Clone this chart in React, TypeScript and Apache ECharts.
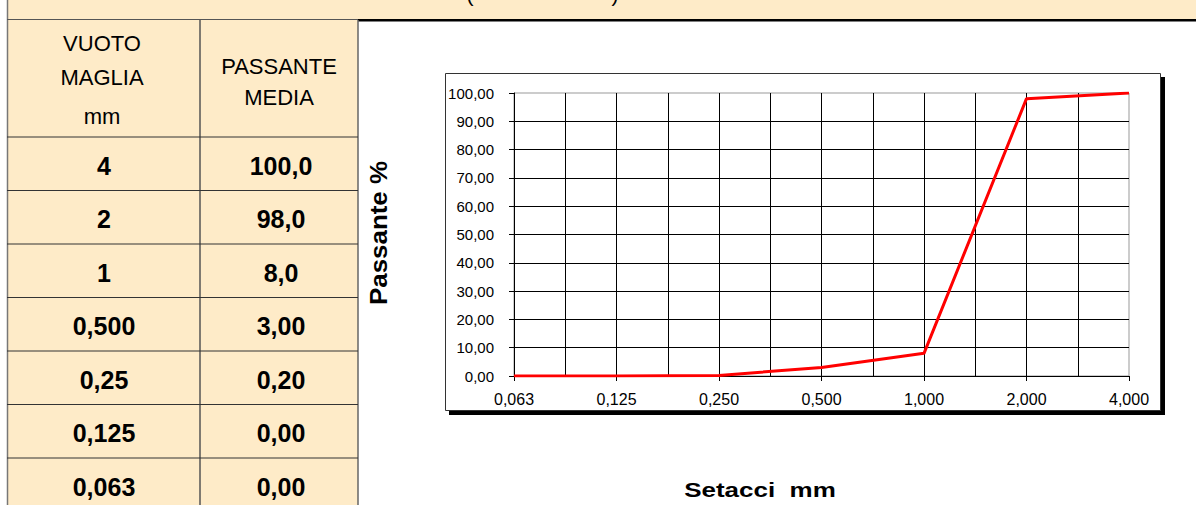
import React, { useEffect, useRef } from "react";
import * as echarts from "echarts";

// ---- Data ----
const sieveLabels = ["0,063", "0,125", "0,250", "0,500", "1,000", "2,000", "4,000"];
const passing = [0, 0, 0.2, 3, 8, 98, 100];

const tableSieves = ["4", "2", "1", "0,500", "0,25", "0,125", "0,063"];
const tablePassing = ["100,0", "98,0", "8,0", "3,00", "0,20", "0,00", "0,00"];
const headerCol1 = ["VUOTO", "MAGLIA", "mm"];
const headerCol2 = ["PASSANTE", "MEDIA"];

const yTitle = "Passante %";
const xTitle = "Setacci  mm";

const FONT = '"Liberation Sans", Arial, sans-serif';
const CREAM = "#FEEBC8";

export default function App() {
  const ref = useRef<HTMLDivElement>(null);

  useEffect(() => {
    document.body.style.margin = "0";
    if (!ref.current) return;
    const chart = echarts.init(ref.current, undefined, { renderer: "svg" });

    const rowTop0 = 137;
    const rowH = 53.5;
    const graphics: any[] = [];

    // backgrounds
    graphics.push({ type: "rect", z: -20, shape: { x: 7, y: 0, width: 351, height: 505 }, style: { fill: CREAM } });
    graphics.push({ type: "rect", z: -20, shape: { x: 7, y: 0, width: 1189, height: 20 }, style: { fill: CREAM } });
    // chart frame + shadow
    graphics.push({ type: "rect", z: -15, shape: { x: 449, y: 77, width: 716, height: 338 }, style: { fill: "#000" } });
    graphics.push({ type: "rect", z: -14, shape: { x: 445.5, y: 73.5, width: 715, height: 337 }, style: { fill: "#fff", stroke: "#333", lineWidth: 1 } });

    // table lines
    const lineStyle = (c: string, w: number) => ({ stroke: c, lineWidth: w });
    graphics.push({ type: "line", z: 5, shape: { x1: 7.5, y1: 0, x2: 7.5, y2: 505 }, style: lineStyle("#777", 1.5) });
    graphics.push({ type: "line", z: 5, shape: { x1: 7, y1: 19.5, x2: 358, y2: 19.5 }, style: lineStyle("#555", 1) });
    graphics.push({ type: "line", z: 5, shape: { x1: 358, y1: 20.2, x2: 1196, y2: 20.2 }, style: lineStyle("#000", 2.5) });
    graphics.push({ type: "line", z: 5, shape: { x1: 200, y1: 20, x2: 200, y2: 505 }, style: lineStyle("#555", 1.5) });
    graphics.push({ type: "line", z: 5, shape: { x1: 358, y1: 20, x2: 358, y2: 505 }, style: lineStyle("#666", 1.5) });
    for (let i = 0; i < tableSieves.length; i++) {
      const y = rowTop0 + i * rowH;
      graphics.push({ type: "line", z: 5, shape: { x1: 7, y1: y, x2: 358, y2: y }, style: lineStyle("#333", 1) });
    }

    // header texts
    const headY1 = [43.5, 77.5, 116.5];
    headerCol1.forEach((t, i) => {
      graphics.push({
        type: "text", z: 10, x: 102, y: headY1[i],
        style: { text: t, fontFamily: FONT, fontSize: 22, fill: "#000", align: "center", verticalAlign: "middle" },
      });
    });
    const headY2 = [66.5, 97.5];
    headerCol2.forEach((t, i) => {
      graphics.push({
        type: "text", z: 10, x: 279, y: headY2[i],
        style: { text: t, fontFamily: FONT, fontSize: 22, fill: "#000", align: "center", verticalAlign: "middle" },
      });
    });

    // table values
    tableSieves.forEach((t, i) => {
      const cy = rowTop0 + i * rowH + 28.5;
      graphics.push({
        type: "text", z: 10, x: 104, y: cy,
        style: { text: t, fontFamily: FONT, fontSize: 25, fontWeight: "bold", fill: "#000", align: "center", verticalAlign: "middle" },
      });
      graphics.push({
        type: "text", z: 10, x: 281, y: cy,
        style: { text: tablePassing[i], fontFamily: FONT, fontSize: 25, fontWeight: "bold", fill: "#000", align: "center", verticalAlign: "middle" },
      });
    });

    // partially visible title parentheses at the top
    graphics.push({ type: "text", z: 10, x: 470, y: -6, style: { text: "(", fontFamily: FONT, fontSize: 21, fill: "#000", align: "center", verticalAlign: "middle" } });
    graphics.push({ type: "text", z: 10, x: 615, y: -6, style: { text: ")", fontFamily: FONT, fontSize: 21, fill: "#000", align: "center", verticalAlign: "middle" } });

    // axis titles
    graphics.push({
      type: "text", z: 10, x: 378, y: 233, rotation: Math.PI / 2, scaleX: 1.08,
      style: { text: yTitle, fontFamily: FONT, fontSize: 24, fontWeight: "bold", fill: "#000", align: "center", verticalAlign: "middle" },
    });
    graphics.push({
      type: "text", z: 10, x: 760, y: 490.5, scaleX: 1.3,
      style: { text: xTitle, fontFamily: FONT, fontSize: 20, fontWeight: "bold", fill: "#000", align: "center", verticalAlign: "middle" },
    });

    const option: any = {
      animation: false,
      backgroundColor: "#fff",
      graphic: { elements: graphics },
      grid: {
        left: 514, top: 93, width: 615, height: 283,
        show: true, borderColor: "#999", borderWidth: 1, backgroundColor: "transparent",
      },
      xAxis: {
        type: "value", min: 0, max: sieveLabels.length - 1, interval: 1,
        axisLine: { show: true, lineStyle: { color: "#000", width: 1 } },
        axisTick: { show: true, length: 5, lineStyle: { color: "#000", width: 1 } },
        axisLabel: {
          formatter: (v: number) => sieveLabels[Math.round(v)] ?? "",
          fontFamily: FONT, fontSize: 16, color: "#000", margin: 15,
        },
        splitLine: { show: true, showMaxLine: false, lineStyle: { color: "#000", width: 1 } },
        minorTick: { show: false, splitNumber: 2 },
        minorSplitLine: { show: true, lineStyle: { color: "#000", width: 1 } },
      },
      yAxis: {
        type: "value", min: 0, max: 100, interval: 10,
        axisLine: { show: true, lineStyle: { color: "#000", width: 1 } },
        axisTick: { show: true, length: 5, lineStyle: { color: "#000", width: 1 } },
        axisLabel: {
          formatter: (v: number) => v.toFixed(2).replace(".", ","),
          fontFamily: FONT, fontSize: 15, color: "#000", margin: 20,
        },
        splitLine: { show: true, showMaxLine: false, lineStyle: { color: "#000", width: 1 } },
      },
      series: [
        {
          type: "line",
          data: passing.map((p, i) => [i, p]),
          symbol: "none",
          smooth: false,
          lineStyle: { color: "#FF0000", width: 3 },
          z: 10,
        },
      ],
    };

    chart.setOption(option);
    return () => chart.dispose();
  }, []);

  return <div ref={ref} style={{ width: 1196, height: 505 }} />;
}
